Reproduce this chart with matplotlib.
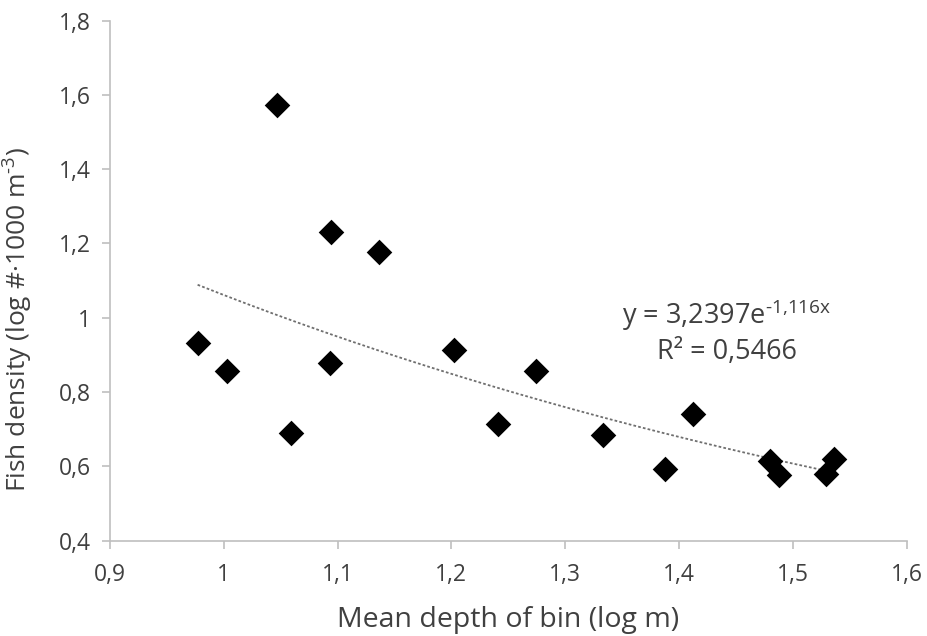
import numpy as np
import matplotlib
matplotlib.use("Agg")
import matplotlib.pyplot as plt

plt.rcParams['font.family'] = ['Open Sans', 'DejaVu Sans']
plt.rcParams['mathtext.fontset'] = 'custom'
plt.rcParams['mathtext.rm'] = 'Open Sans'

# Mean depth of bin (log m) and fish density (log #·1000 m^-3)
depth = [0.977, 1.003, 1.047, 1.059, 1.093, 1.094, 1.136, 1.202, 1.241,
         1.274, 1.333, 1.388, 1.412, 1.480, 1.488, 1.529, 1.536]
density = [0.931, 0.858, 1.573, 0.689, 0.878, 1.231, 1.177, 0.913, 0.713,
           0.857, 0.685, 0.592, 0.741, 0.615, 0.576, 0.580, 0.619]

# Exponential trend: y = a * exp(b * x)
fit_a = 3.2397
fit_b = -1.116
r_squared = 0.5466

x_ticks = [0.9, 1.0, 1.1, 1.2, 1.3, 1.4, 1.5, 1.6]
x_ticklabels = ["0,9", "1", "1,1", "1,2", "1,3", "1,4", "1,5", "1,6"]
y_ticks = [0.4, 0.6, 0.8, 1.0, 1.2, 1.4, 1.6, 1.8]
y_ticklabels = ["0,4", "0,6", "0,8", "1", "1,2", "1,4", "1,6", "1,8"]

fig = plt.figure(figsize=(9.28, 6.36), dpi=100)
ax = fig.add_axes([0.1185, 0.150, 0.8585, 0.8175])

axis_grey = "#bfbfbf"
text_grey = "#404040"

xs = np.linspace(min(depth), max(depth), 200)
ax.plot(xs, fit_a * np.exp(fit_b * xs), linestyle=(0, (1.5, 1.2)),
        color="#6f6f6f", linewidth=1.3, zorder=2)

ax.scatter(depth, density, marker="D", s=170, color="black", zorder=3,
           linewidths=0)

ax.set_xlim(0.9, 1.6)
ax.set_ylim(0.4, 1.8)
ax.set_xticks(x_ticks)
ax.set_xticklabels(x_ticklabels)
ax.set_yticks(y_ticks)
ax.set_yticklabels(y_ticklabels)

for side in ("top", "right"):
    ax.spines[side].set_visible(False)
for side in ("left", "bottom"):
    ax.spines[side].set_color(axis_grey)
    ax.spines[side].set_linewidth(1.2)

ax.tick_params(axis="both", direction="out", length=6, width=1.2,
               color=axis_grey, labelsize=16.5, labelcolor=text_grey)
ax.tick_params(axis="x", pad=10)
ax.tick_params(axis="y", pad=8)

ax.set_xlabel("Mean depth of bin (log m)", fontsize=20.5, color=text_grey,
              labelpad=14)
ax.set_ylabel("Fish density (log #\u00b71000 m$^{\\text{-3}}$)",
              fontsize=19, color=text_grey)
ax.yaxis.set_label_coords(-0.095, 0.425)

ax.text(1.442, 1.008, "y = 3,2397e$^{\\text{-1,116x}}$",
        fontsize=19.5, color=text_grey, ha="center", va="center")
ax.text(1.442, 0.908, "R\u00b2 = 0,5466",
        fontsize=19.5, color=text_grey, ha="center", va="center")

fig.savefig("out.png", dpi=100, facecolor="white")
